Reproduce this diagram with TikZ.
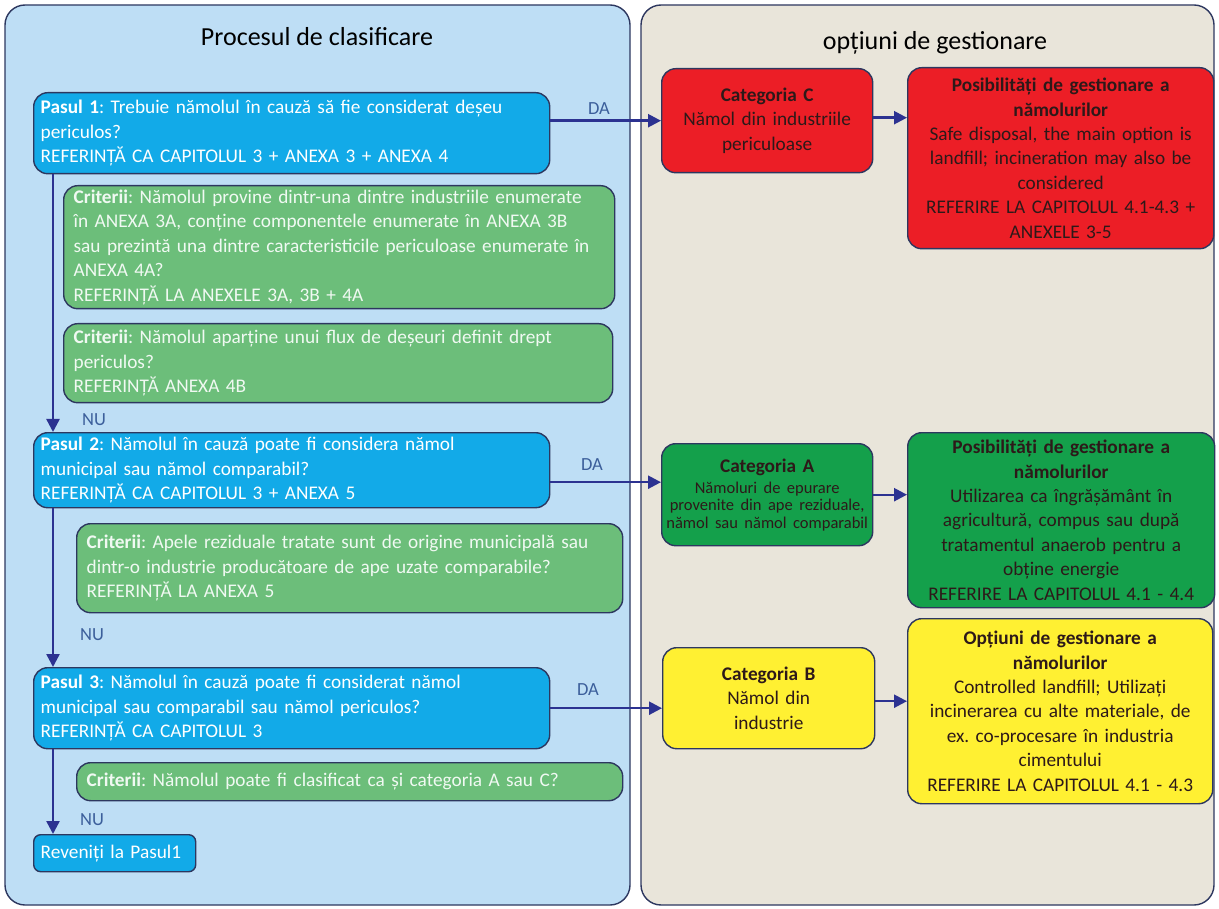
\documentclass[tikz,border=0pt]{standalone}
\usepackage{fontspec}
\setmainfont{Carlito}
\frenchspacing
\usepackage{tikz}
\usetikzlibrary{arrows.meta}
\usetikzlibrary{calc}
\usetikzlibrary{positioning}
\definecolor{panelblue}{RGB}{190,222,245}
\definecolor{panelbeige}{RGB}{233,229,218}
\definecolor{stepblue}{RGB}{18,170,232}
\definecolor{critgreen}{RGB}{108,190,122}
\definecolor{edgecolour}{RGB}{45,55,95}
\definecolor{flowcolour}{RGB}{44,50,145}
\definecolor{labelcolour}{RGB}{60,95,155}
\definecolor{catred}{RGB}{236,30,38}
\definecolor{catgreen}{RGB}{20,160,75}
\definecolor{catyellow}{RGB}{255,240,50}
\definecolor{darktext}{RGB}{45,25,25}
\newcommand\boxfont{\fontsize{19.3}{24.4}\selectfont}
\newcommand\smallboxfont{\fontsize{16.5}{17.5}\selectfont}
\newcommand\linewd{1.4pt}
\newcommand\flowwidth{2.4pt}
\tikzset{>={Triangle[length=13pt,width=13pt]}}
\tikzstyle{panel}   = [draw=edgecolour, line width=\linewd, rounded corners=20pt]
\tikzstyle{box}     = [draw=edgecolour, line width=\linewd, rounded corners=14pt, anchor=north west,
                       font=\boxfont, inner xsep=7pt, inner ysep=1pt]
\tikzstyle{pasbox}  = [box, fill=stepblue, text=white, align=left]
\tikzstyle{critbox} = [box, fill=critgreen, text=white!90!critgreen, align=left, inner xsep=10pt]
\tikzstyle{catbox}  = [box, text=darktext, align=center, inner xsep=4pt]
\tikzstyle{flow}    = [draw=flowcolour, line width=\flowwidth, ->]
\tikzstyle{answer}  = [text=labelcolour, font=\fontsize{18.5}{20}\selectfont]
\tikzstyle{heading} = [font=\fontsize{26}{30}\selectfont]

\begin{document}
\begin{tikzpicture}[x=1pt, y=-1pt]
    \useasboundingbox (0, 0) rectangle (1219, 909);
    \draw[panel, fill=panelblue] (5, 5) rectangle (630, 905);
    \draw[panel, fill=panelbeige] (641, 5) rectangle (1214, 905);
    \draw (317, 37) node[heading] (lefttitle) {Procesul de clasificare};
    \draw (935, 43) node[heading] (righttitle) {opțiuni de gestionare};
    \draw (33, 92) node[pasbox, text width=502pt, minimum height=81pt] (pas1)
        {\textbf{Pasul 1}: Trebuie nămolul în cauză să fie considerat deșeu\\
         periculos?\\
         REFERINȚĂ CA CAPITOLUL 3 + ANEXA 3 + ANEXA 4};
    \draw (63, 185) node[critbox, text width=531pt, minimum height=123pt] (crit1)
        {\textbf{Criterii}: Nămolul provine dintr-una dintre industriile enumerate\\
         în ANEXA 3A, conține componentele enumerate în ANEXA 3B\\
         sau prezintă una dintre caracteristicile periculoase enumerate în\\
         ANEXA 4A?\\
         REFERINȚĂ LA ANEXELE 3A, 3B + 4A};
    \draw (63, 323) node[critbox, text width=529pt, minimum height=79pt] (crit2)
        {\textbf{Criterii}: Nămolul aparține unui flux de deșeuri definit drept\\
         periculos?\\
         REFERINȚĂ ANEXA 4B};
    \draw (33, 432) node[pasbox, text width=502pt, minimum height=75pt] (pas2)
        {\textbf{Pasul 2}: Nămolul în cauză poate fi considera nămol\\
         municipal sau nămol comparabil?\\
         REFERINȚĂ CA CAPITOLUL 3 + ANEXA 5};
    \draw (76, 523) node[critbox, text width=526pt, minimum height=89pt] (crit3)
        {\textbf{Criterii}: Apele reziduale tratate sunt de origine municipală sau\\
         dintr-o industrie producătoare de ape uzate comparabile?\\
         REFERINȚĂ LA ANEXA 5};
    \draw (33, 667) node[pasbox, text width=502pt, minimum height=81pt] (pas3)
        {\textbf{Pasul 3}: Nămolul în cauză poate fi considerat nămol\\
         municipal sau comparabil sau nămol periculos?\\
         REFERINȚĂ CA CAPITOLUL 3};
    \draw (76, 762) node[critbox, text width=526pt, minimum height=38pt] (crit4)
        {\textbf{Criterii}: Nămolul poate fi clasificat ca și categoria A sau C?};
    \draw (33, 834) node[pasbox, text width=148pt, minimum height=37pt, rounded corners=7pt] (revin)
        {Reveniți la Pasul1};
    \draw (661, 68) node[catbox, fill=catred, text width=203pt, minimum height=104pt] (catC)
        {\textbf{Categoria C}\\ Nămol din industriile\\ periculoase};
    \draw (907, 67) node[catbox, fill=catred, text width=298pt, minimum height=181pt] (posC)
        {\textbf{Posibilități de gestionare a}\\ \textbf{nămolurilor}\\
         Safe disposal, the main option is\\ landfill; incineration may also be\\
         considered\\ REFERIRE LA CAPITOLUL 4.1-4.3 +\\ ANEXELE 3-5};
    \draw (661, 443) node[catbox, fill=catgreen, text width=207pt, inner xsep=2pt, minimum height=102pt] (catA)
        {\textbf{Categoria A}\\[3.5pt] \smallboxfont Nămoluri de epurare\\ provenite din ape reziduale,\\
         nămol sau nămol comparabil\par};
    \draw (907, 432) node[catbox, fill=catgreen, text width=299pt, minimum height=175pt] (posA)
        {\textbf{Posibilități de gestionare a}\\ \textbf{nămolurilor}\\
         Utilizarea ca îngrășământ în\\ agricultură, compus sau după\\
         tratamentul anaerob pentru a\\ obține energie\\ REFERIRE LA CAPITOLUL 4.1 - 4.4};
    \draw (662, 647) node[catbox, fill=catyellow, text width=204pt, minimum height=101pt] (catB)
        {\textbf{Categoria B}\\ Nămol din\\ industrie};
    \draw (907, 618) node[catbox, fill=catyellow, text width=297pt, minimum height=185pt] (posB)
        {\textbf{Opțiuni de gestionare a}\\ \textbf{nămolurilor}\\
         Controlled landfill; Utilizați\\ incinerarea cu alte materiale, de\\
         ex. co-procesare în industria\\ cimentului\\ REFERIRE LA CAPITOLUL 4.1 - 4.3};
    \draw (599, 109) node[answer] (da1) {DA};
    \draw (592, 465) node[answer] (da2) {DA};
    \draw (588, 690) node[answer] (da3) {DA};
    \draw (94, 420) node[answer] (nu1) {NU};
    \draw (92, 635) node[answer] (nu2) {NU};
    \draw (92, 820) node[answer] (nu3) {NU};
    \draw[flow] ([xshift=20pt]pas1.south west) -- ([xshift=20pt]pas2.north west);
    \draw[flow] ([xshift=20pt]pas2.south west) -- ([xshift=20pt]pas3.north west);
    \draw[flow] ([xshift=20pt]pas3.south west) -- ([xshift=20pt]revin.north west);
    \draw[flow] (pas1.east |- catC.west) -- (catC.west);
    \draw[flow] ([yshift=-12pt]pas2.east) -- ([yshift=-12pt]pas2.east -| catA.west);
    \draw[flow] (pas3.east) -- (pas3.east -| catB.west);
    \draw[flow] ([yshift=3pt]catC.east) -- ([yshift=3pt]catC.east -| posC.west);
    \draw[flow] (catA.east) -- (catA.east -| posA.west);
    \draw[flow] ([yshift=-3pt]catB.east) -- ([yshift=-3pt]catB.east -| posB.west);
\end{tikzpicture}
\end{document}
